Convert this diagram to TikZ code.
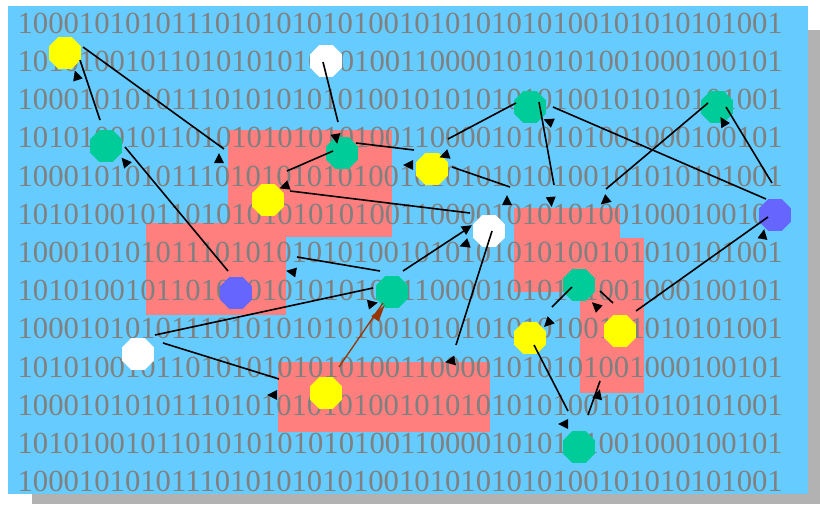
\documentclass[tikz,border=0pt]{standalone}
\usepackage{fontspec}
\setmainfont{Liberation Serif}
\usetikzlibrary{shapes.geometric}
\definecolor{bgblue}{HTML}{66CCFF}
\definecolor{pinkbox}{HTML}{FF7F7F}
\definecolor{shadowgray}{HTML}{B2B2B2}
\definecolor{digitgray}{HTML}{808080}
\definecolor{octyellow}{HTML}{FFFF00}
\definecolor{octgreen}{HTML}{00CC99}
\definecolor{octblue}{HTML}{6666FF}
\definecolor{brownline}{HTML}{993300}
\tikzset{
  oct/.style={regular polygon, regular polygon sides=8, minimum size=34.5pt, inner sep=0pt, draw=none},
  yoct/.style={oct, fill=octyellow},
  goct/.style={oct, fill=octgreen},
  woct/.style={oct, fill=white},
  boct/.style={oct, fill=octblue},
  conn/.style={line width=1.6pt, draw=black},
  brownconn/.style={line width=1.3pt, draw=brownline},
  ahead/.style={isosceles triangle, isosceles triangle stretches, minimum height=10pt, minimum width=10pt, inner sep=0pt, fill=black, draw=none},
  bhead/.style={isosceles triangle, isosceles triangle stretches, minimum height=17pt, minimum width=9pt, inner sep=0pt, fill=brownline, draw=none},
  digits/.style={anchor=base west, inner sep=0pt, text=digitgray, font=\fontsize{30.7pt}{30.7pt}\selectfont},
  pinkrect/.style={fill=pinkbox, draw=none}
}
\newcommand{\oddrow}{10001010101110101010101001010101010100101010101001}
\newcommand{\evenrow}{10101001011010101010101001100001010101001000100101}
\begin{document}
\begin{tikzpicture}[x=1pt,y=-1pt]
\useasboundingbox (0,0) rectangle (820,504);
\fill[white] (0,0) rectangle (820,504);
% shadow and background
\fill[shadowgray] (32,30) rectangle (820,504);
\fill[bgblue] (8,6) rectangle (808,494);
% pink regions
\fill[pinkrect] (228,130) rectangle (392,237);
\fill[pinkrect] (146,223) rectangle (286,315);
\fill[pinkrect] (514,208) rectangle (620,292);
\fill[pinkrect] (580,238) rectangle (644,393);
\fill[pinkrect] (278,362) rectangle (490,432);
% binary text rows
\node[digits] (r1) at (17.4,33.3) {\oddrow};
\node[digits] (r2) at (17.4,71.5) {\evenrow};
\node[digits] (r3) at (17.4,109.7) {\oddrow};
\node[digits] (r4) at (17.4,147.9) {\evenrow};
\node[digits] (r5) at (17.4,186.1) {\oddrow};
\node[digits] (r6) at (17.4,224.3) {\evenrow};
\node[digits] (r7) at (17.4,262.5) {\oddrow};
\node[digits] (r8) at (17.4,300.7) {\evenrow};
\node[digits] (r9) at (17.4,338.9) {\oddrow};
\node[digits] (r10) at (17.4,377.1) {\evenrow};
\node[digits] (r11) at (17.4,415.3) {\oddrow};
\node[digits] (r12) at (17.4,453.5) {\evenrow};
\node[digits] (r13) at (17.4,491.7) {\oddrow};
% octagon nodes
\node[yoct] (y1) at (65,53) {};
\node[woct] (w1) at (326,61) {};
\node[goct] (g3) at (530,107) {};
\node[goct] (g4) at (717,107) {};
\node[goct] (g1) at (106,146) {};
\node[goct] (g2) at (342,153) {};
\node[yoct] (y3) at (432,169) {};
\node[yoct] (y2) at (268,200) {};
\node[boct] (b1) at (775,215) {};
\node[woct] (w2) at (489,231) {};
\node[goct] (g6) at (579,285) {};
\node[boct] (b2) at (236,293) {};
\node[goct] (g5) at (392,292) {};
\node[yoct] (y4) at (620,331) {};
\node[yoct] (y5) at (530,338) {};
\node[woct] (w3) at (138,354) {};
\node[yoct] (y6) at (326,393) {};
\node[goct] (g7) at (579,447) {};
% connector end points
\coordinate (c1a) at (80,60);   \coordinate (c1b) at (100,120);
\coordinate (c2a) at (83,47);   \coordinate (c2b) at (224,149);
\coordinate (c3a) at (125,147); \coordinate (c3b) at (228,271);
\coordinate (c4a) at (323,62);  \coordinate (c4b) at (338,122);
\coordinate (c5a) at (333,151); \coordinate (c5b) at (287,171);
\coordinate (c6a) at (356,143); \coordinate (c6b) at (414,150);
\coordinate (c7a) at (516,103); \coordinate (c7b) at (448,139);
\coordinate (c8a) at (553,107); \coordinate (c8b) at (766,199);
\coordinate (c9a) at (539,102); \coordinate (c9b) at (554,185);
\coordinate (c10a) at (708,103); \coordinate (c10b) at (606,189);
\coordinate (c11a) at (772,183); \coordinate (c11b) at (726,107);
\coordinate (c12a) at (452,167); \coordinate (c12b) at (510,187);
\coordinate (c13a) at (290,191); \coordinate (c13b) at (470,213);
\coordinate (c15a) at (403,271); \coordinate (c15b) at (470,227);
\coordinate (c16a) at (492,231); \coordinate (c16b) at (456,345);
\coordinate (c17a) at (380,271); \coordinate (c17b) at (297,257);
\coordinate (c18a) at (155,335); \coordinate (c18b) at (373,288);
\coordinate (c19a) at (163,343); \coordinate (c19b) at (279,379);
\coordinate (c20a) at (339,367); \coordinate (c20b) at (383,303);
\coordinate (c21a) at (572,287); \coordinate (c21b) at (552,307);
\coordinate (c22a) at (613,303); \coordinate (c22b) at (600,291);
\coordinate (c23a) at (636,311); \coordinate (c23b) at (768,217);
\coordinate (c24a) at (534,345); \coordinate (c24b) at (568,411);
\coordinate (c25a) at (588,415); \coordinate (c25b) at (600,381);
% connectors
\draw[conn] (c1a) -- (c1b);
\draw[conn] (c2a) -- (c2b);
\draw[conn] (c3a) -- (c3b);
\draw[conn] (c4a) -- (c4b);
\draw[conn] (c5a) -- (c5b);
\draw[conn] (c6a) -- (c6b);
\draw[conn] (c7a) -- (c7b);
\draw[conn] (c8a) -- (c8b);
\draw[conn] (c9a) -- (c9b);
\draw[conn] (c10a) -- (c10b);
\draw[conn] (c11a) -- (c11b);
\draw[conn] (c12a) -- (c12b);
\draw[conn] (c13a) -- (c13b);
\draw[conn] (c15a) -- (c15b);
\draw[conn] (c16a) -- (c16b);
\draw[conn] (c17a) -- (c17b);
\draw[conn] (c18a) -- (c18b);
\draw[conn] (c19a) -- (c19b);
\draw[brownconn] (c20a) -- (c20b);
\draw[conn] (c21a) -- (c21b);
\draw[conn] (c22a) -- (c22b);
\draw[conn] (c23a) -- (c23b);
\draw[conn] (c24a) -- (c24b);
\draw[conn] (c25a) -- (c25b);
% arrow heads
\node[ahead, rotate=108] (h1) at (77,77) {};
\node[ahead, rotate=90] (h2) at (219,160) {};
\node[ahead, rotate=130] (h3) at (126,163) {};
\node[ahead, rotate=280] (h4) at (336,137) {};
\node[ahead, rotate=200] (h5) at (286,186) {};
\node[ahead, rotate=180] (h6) at (410,165) {};
\node[ahead, rotate=200] (h7) at (446,155) {};
\node[ahead, rotate=157] (h8) at (550,122) {};
\node[ahead, rotate=275] (h9) at (551,200) {};
\node[ahead, rotate=220] (h10) at (606,200) {};
\node[ahead, rotate=121] (h11) at (724,123) {};
\node[ahead, rotate=90] (h12) at (507,202) {};
\node[ahead, rotate=33] (h15a) at (466,229) {};
\node[ahead, rotate=200] (h15b) at (466,244) {};
\node[ahead, rotate=190] (h16) at (452,361) {};
\node[ahead, rotate=170] (h17) at (293,272) {};
\node[ahead, rotate=12] (h18) at (371,304) {};
\node[ahead, rotate=180] (h19) at (274,395) {};
\node[ahead, rotate=225] (h21) at (549,322) {};
\node[ahead, rotate=137] (h22) at (597,307) {};
\node[ahead, rotate=80] (h23) at (763,236) {};
\node[ahead, rotate=180] (h24) at (565,424) {};
\node[ahead, rotate=75] (h25) at (598,396) {};
\node[bhead, rotate=55] (h20) at (377,316) {};
\end{tikzpicture}
\end{document}
